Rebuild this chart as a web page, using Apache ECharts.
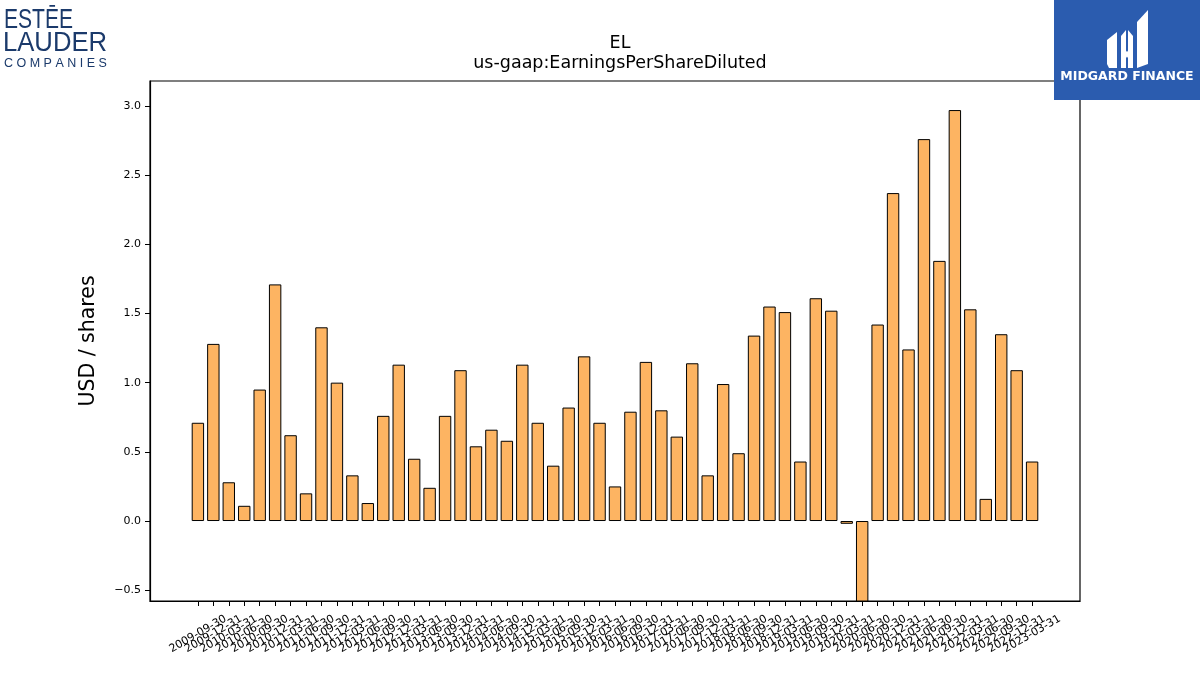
<!DOCTYPE html>
<html>
<head>
<meta charset="utf-8">
<title>EL EarningsPerShareDiluted</title>
<script src="https://cdn.jsdelivr.net/npm/echarts@6/dist/echarts.min.js"></script>
<style>
  html, body { margin: 0; padding: 0; background: #fff; }
</style>
</head>
<body>
<div id="main" style="width:1200px;height:675px;"></div>
<script type="text/javascript">
// quarter end dates
var dates = [
  '2009-09-30', '2009-12-31',
  '2010-03-31', '2010-06-30', '2010-09-30', '2010-12-31',
  '2011-03-31', '2011-06-30', '2011-09-30', '2011-12-31',
  '2012-03-31', '2012-06-30', '2012-09-30', '2012-12-31',
  '2013-03-31', '2013-06-30', '2013-09-30', '2013-12-31',
  '2014-03-31', '2014-06-30', '2014-09-30', '2014-12-31',
  '2015-03-31', '2015-06-30', '2015-09-30', '2015-12-31',
  '2016-03-31', '2016-06-30', '2016-09-30', '2016-12-31',
  '2017-03-31', '2017-06-30', '2017-09-30', '2017-12-31',
  '2018-03-31', '2018-06-30', '2018-09-30', '2018-12-31',
  '2019-03-31', '2019-06-30', '2019-09-30', '2019-12-31',
  '2020-03-31', '2020-06-30', '2020-09-30', '2020-12-31',
  '2021-03-31', '2021-06-30', '2021-09-30', '2021-12-31',
  '2022-03-31', '2022-06-30', '2022-09-30', '2022-12-31',
  '2023-03-31'
];

// diluted EPS, USD / share
var eps = [
  0.71, 1.28,
  0.28, 0.11, 0.95, 1.71,
  0.62, 0.20, 1.40, 1.00,
  0.33, 0.13, 0.76, 1.13,
  0.45, 0.24, 0.76, 1.09,
  0.54, 0.66, 0.58, 1.13,
  0.71, 0.40, 0.82, 1.19,
  0.71, 0.25, 0.79, 1.15,
  0.80, 0.61, 1.14, 0.33,
  0.99, 0.49, 1.34, 1.55,
  1.51, 0.43, 1.61, 1.52,
  -0.02, -1.64, 1.42, 2.37,
  1.24, 2.76, 1.88, 2.97,
  1.53, 0.16, 1.35, 1.09,
  0.43
];

var yTicks = [-0.5, 0.0, 0.5, 1.0, 1.5, 2.0, 2.5, 3.0];

var barData = [];
for (var i = 0; i < dates.length; i++) {
    barData.push([i, eps[i]]);
}

// spacing between bar centres, in px; first centre sits 3.1 units inside the frame
var step = 930 / 60.2;
var labLeft = 150 + (3.1 - 0.5) * step;
var labRight = 120 + (3.1 - 0.5) * step;

var myChart = echarts.init(document.getElementById('main'));

var option = {
    backgroundColor: '#ffffff',
    animation: false,
    textStyle: { fontFamily: 'DejaVu Sans' },
    title: {
        text: 'EL\nus-gaap:EarningsPerShareDiluted',
        left: 615,
        top: 28,
        textAlign: 'center',
        textStyle: { fontFamily: 'DejaVu Sans', fontSize: 17.5, fontWeight: 'normal', color: '#000', lineHeight: 20 }
    },
    grid: [
        {
            left: 150, right: 120, top: 81, bottom: 74,
            show: true, borderColor: '#000', borderWidth: 1.2, backgroundColor: 'transparent'
        },
        // only carries the date labels under the bars
        { left: labLeft, right: labRight, top: 81, bottom: 74 }
    ],
    xAxis: [
        {
            type: 'value',
            gridIndex: 0,
            min: -3.1,
            max: 57.1,
            splitLine: { show: false },
            axisLine: { show: true, onZero: false, lineStyle: { color: '#000', width: 1.2 } },
            axisTick: { show: false },
            axisLabel: { show: false }
        },
        {
            type: 'category',
            gridIndex: 1,
            data: dates,
            boundaryGap: true,
            axisLine: { show: false, onZero: false },
            axisTick: { show: true, alignWithLabel: true, interval: 0, length: 5, lineStyle: { color: '#000' } },
            axisLabel: {
                interval: 0,
                rotate: 30,
                align: 'center',
                verticalAlign: 'middle',
                fontSize: 11,
                color: '#000',
                margin: 33
            }
        }
    ],
    yAxis: [
        {
            type: 'value',
            gridIndex: 0,
            min: -0.578,
            max: 3.18,
            name: 'USD / shares',
            nameLocation: 'middle',
            nameGap: 51,
            nameTextStyle: { fontSize: 20.5, color: '#000', fontFamily: 'DejaVu Sans' },
            splitLine: { show: false },
            axisLine: { show: true, onZero: false, lineStyle: { color: '#000', width: 1.2 } },
            axisTick: { show: true, length: 5, lineStyle: { color: '#000' }, customValues: yTicks },
            axisLabel: {
                customValues: yTicks,
                showMinLabel: true,
                showMaxLabel: true,
                fontSize: 11,
                color: '#000',
                margin: 9,
                formatter: function (v) { return v.toFixed(1).replace('-', '\u2212'); }
            }
        },
        {
            type: 'value',
            gridIndex: 1,
            min: -0.578,
            max: 3.18,
            show: false
        }
    ],
    series: [{
        type: 'bar',
        xAxisIndex: 0,
        yAxisIndex: 0,
        data: barData,
        barWidth: 12.4,
        clip: true,
        itemStyle: { color: '#fdb462', borderColor: '#000', borderWidth: 1 }
    }],
    graphic: [
        // Estee Lauder Companies logo
        { type: 'text', x: 4, y: 7, scaleX: 0.78, style: { text: 'ESTĒE', font: '27px "Liberation Sans"', fill: '#1b3a6b' } },
        { type: 'text', x: 3, y: 30, scaleX: 0.95, style: { text: 'LAUDER', font: '27px "Liberation Sans"', fill: '#1b3a6b' } },
        { type: 'text', x: 4, y: 57, style: { text: 'C O M P A N I E S', font: '12.5px "Liberation Sans"', fill: '#1b3a6b' } },
        // Midgard Finance logo
        { type: 'rect', shape: { x: 1054, y: 0, width: 146, height: 100 }, style: { fill: '#2b5caf' } },
        { type: 'polygon', shape: { points: [[1107, 40], [1117, 32], [1117, 68], [1109, 68], [1107, 64]] }, style: { fill: '#fff' } },
        { type: 'polygon', shape: { points: [[1121, 36], [1126, 30], [1126, 68], [1121, 68]] }, style: { fill: '#fff' } },
        { type: 'polygon', shape: { points: [[1128, 30], [1133, 36], [1133, 68], [1128, 68]] }, style: { fill: '#fff' } },
        { type: 'polygon', shape: { points: [[1121, 44], [1127, 52], [1133, 44], [1133, 50], [1127, 58], [1121, 50]] }, style: { fill: '#fff' } },
        { type: 'polygon', shape: { points: [[1137, 22], [1148, 10], [1148, 64], [1137, 68]] }, style: { fill: '#fff' } },
        { type: 'text', x: 1127, y: 70, style: { text: 'MIDGARD FINANCE', font: 'bold 12.5px "DejaVu Sans"', fill: '#fff', align: 'center' } }
    ]
};

myChart.setOption(option);
</script>
</body>
</html>
